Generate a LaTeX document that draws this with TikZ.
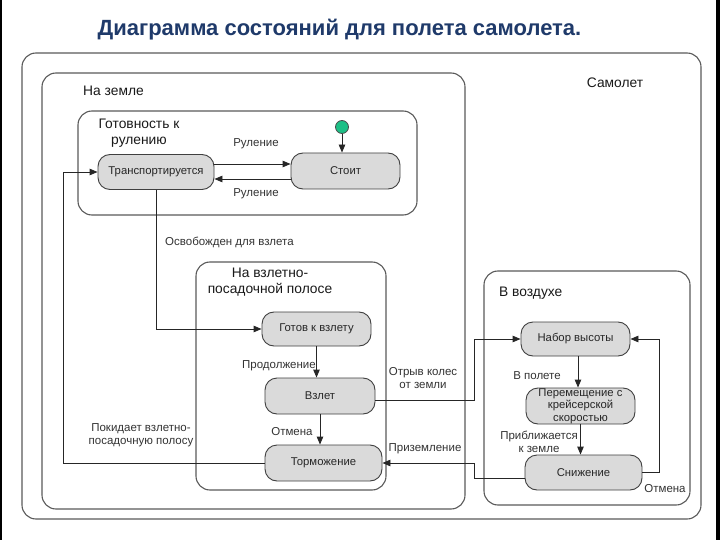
\documentclass[tikz,border=0pt]{standalone}
\usepackage{fontspec}
\setmainfont{Liberation Sans}
\usetikzlibrary{arrows.meta,calc}
\definecolor{titleblue}{HTML}{1F3A6A}
\definecolor{boxgray}{HTML}{5A5A5A}
\definecolor{nodefill}{HTML}{DADADA}
\definecolor{initgreen}{HTML}{1DBF86}
\begin{document}
\begin{tikzpicture}[x=1pt,y=-1pt,
 container/.style={draw=boxgray, line width=1.1pt, rounded corners=14pt},
 statebox/.style={draw=black!75, fill=nodefill, line width=0.9pt, rounded corners=12pt, inner sep=0pt, font=\fontsize{11.3}{12.5}\selectfont, text=black!85, align=center},
 arr/.style={draw=black!85, line width=0.9pt, -{Triangle[length=8pt,width=6.5pt]}},
 elabel/.style={font=\fontsize{11.5}{13.5}\selectfont, text=black!80, inner sep=0pt, align=center},
 clabel/.style={font=\fontsize{13.8}{16.5}\selectfont, text=black!90, inner sep=0pt, align=center}]

\useasboundingbox (0,0) rectangle (720,540);
\fill[white] (0,0) rectangle (720,540);
\fill[black] (0,0) rectangle (2,540);
\fill[black] (716,0) rectangle (720,540);

% title
\node[font=\bfseries\fontsize{22}{26}\selectfont, text=titleblue, inner sep=0pt] (title) at (339.5,30) {Диаграмма состояний для полета самолета.};

% containers
\draw[container] (22,53) rectangle (701,519);
\draw[container] (42,73) rectangle (465,509);
\draw[container] (78,111) rectangle (417,215);
\draw[container] (196,262) rectangle (386,490);
\draw[container] (484,271) rectangle (690,505);

% container labels
\node[clabel] (lplane) at (615,83) {Самолет};
\node[clabel, anchor=west] (lground) at (83,91) {На земле};
\node[clabel] (lready) at (139,133) {Готовность к\\рулению};
\node[clabel] (lrunway) at (270,282) {На взлетно-\\посадочной полосе};
\node[clabel, anchor=west] (lair) at (499,293) {В воздухе};

% states
\node[statebox, minimum width=116pt, minimum height=35pt] (trans) at (156,172) {Транспортируется};
\node[statebox, minimum width=109pt, minimum height=36pt] (stoit) at (345.5,171) {Стоит};
\node[statebox, minimum width=109pt, minimum height=34pt] (gotov) at (316.5,329) {Готов к взлету};
\node[statebox, minimum width=110pt, minimum height=36pt] (vzlet) at (320,396) {Взлет};
\node[statebox, minimum width=117pt, minimum height=36pt] (torm) at (323.5,463) {Торможение};
\node[statebox, minimum width=109pt, minimum height=34pt] (nabor) at (575.5,339) {Набор высоты};
\node[statebox, minimum width=109pt, minimum height=36pt] (perem) at (580.5,406) {Перемещение с\\крейсерской\\скоростью};
\node[statebox, minimum width=117pt, minimum height=35pt] (snizh) at (583.5,472.5) {Снижение};

\node[circle, draw=black!70, line width=0.8pt, fill=initgreen, minimum size=13pt, inner sep=0pt] (init) at (342,127) {};

% helper coordinates
\coordinate (L) at (63,0);
\coordinate (R) at (474,0);
\coordinate (RR) at (659,0);
\coordinate (y164) at (0,164);
\coordinate (y179) at (0,179);
\coordinate (y400) at (0,400);
\coordinate (y478) at (0,478);

% connectors
\draw[arr] (init) -- (init |- stoit.north);
\draw[arr] (trans.east |- y164) -- (stoit.west |- y164);
\draw[arr] (stoit.west |- y179) -- (trans.east |- y179);
\draw[arr] (trans.south) |- (gotov.west);
\draw[arr] (gotov.south) -- (gotov.south |- vzlet.north);
\draw[arr] (vzlet.south) -- (vzlet.south |- torm.north);
\draw[arr] (torm.west) -- (torm.west -| L) |- (trans.west);
\draw[arr] (vzlet.east |- y400) -- (R |- y400) |- (nabor.west);
\draw[arr] (snizh.west |- y478) -- (R |- y478) -- (R |- torm.east) -- (torm.east);
\draw[arr] (snizh.east) -- (snizh.east -| RR) |- (nabor.east);
\draw[arr] (nabor.south -| 578,0) -- (perem.north -| 578,0);
\draw[arr] (perem.south) -- (perem.south |- snizh.north);

% connector labels
\node[elabel] (r1) at (256,144) {Руление};
\node[elabel] (r2) at (256,194) {Руление};
\node[elabel, anchor=west] (osv) at (165,242) {Освобожден для взлета};
\node[elabel, anchor=east] (prod) at (316,366) {Продолжение};
\node[elabel] (otm1) at (292,432) {Отмена};
\node[elabel] (pok) at (141,435) {Покидает взлетно-\\посадочную полосу};
\node[elabel] (otr) at (423,378) {Отрыв колес\\от земли};
\node[elabel] (priz) at (425,449) {Приземление};
\node[elabel] (vpol) at (537,376) {В полете};
\node[elabel] (pribl) at (539,442) {Приближается\\к земле};
\node[elabel] (otm2) at (665,489) {Отмена};
\end{tikzpicture}
\end{document}
